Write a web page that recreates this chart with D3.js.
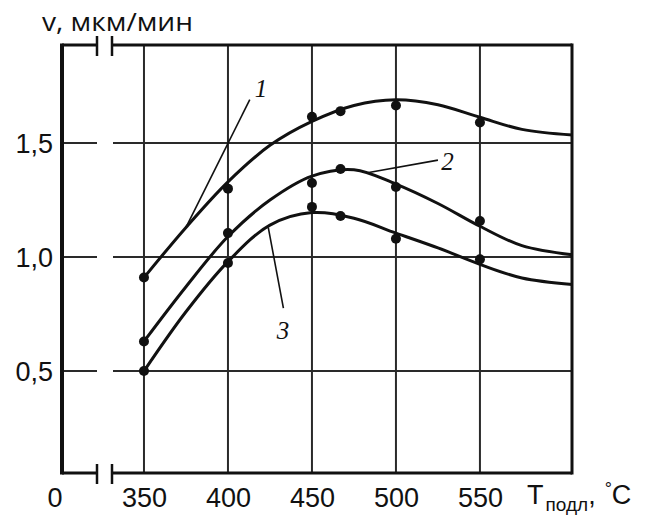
<!DOCTYPE html>
<html><head><meta charset="utf-8">
<script src="https://cdn.jsdelivr.net/npm/d3@7"></script>
<style>
html,body{margin:0;padding:0;background:#fff;}
svg{display:block;}
</style></head>
<body>
<svg id="chart" width="650" height="518"></svg>
<script>
// ---- data ----
const xTicks = [350, 400, 450, 500, 550];
const yTicks = [0.5, 1.0, 1.5];
const yTickLabels = ["0,5", "1,0", "1,5"];
const pointT = [350, 400, 450, 467, 500, 550];
const points1 = [0.91, 1.30, 1.615, 1.64, 1.665, 1.59];
const points2 = [0.63, 1.105, 1.325, 1.386, 1.307, 1.158];
const points3 = [0.50, 0.974, 1.22, 1.18, 1.08, 0.99];
const curveT = [350, 375, 400, 425, 450, 475, 500, 525, 550, 575, 605];
const curve1 = [0.91, 1.13, 1.33, 1.49, 1.595, 1.665, 1.69, 1.668, 1.613, 1.56, 1.535];
const curve2 = [0.63, 0.87, 1.09, 1.25, 1.355, 1.383, 1.32, 1.235, 1.135, 1.05, 1.01];
const curve3 = [0.50, 0.76, 0.98, 1.14, 1.195, 1.17, 1.105, 1.04, 0.968, 0.908, 0.88];
const curveLabels = ["1", "2", "3"];

// ---- layout ----
const L = 62, R = 572, T = 45, B = 473;
const gapA = 97, gapB = 112;
const x = d3.scaleLinear().domain([301.2, 604.8]).range([L, R]);
const y = d3.scaleLinear().domain([0.053, 1.93]).range([B, T]);

const svg = d3.select("#chart");
const ink = "#111";

// grid: vertical
svg.append("g").selectAll("line").data(xTicks).join("line")
  .attr("x1", d => x(d)).attr("x2", d => x(d))
  .attr("y1", T).attr("y2", B)
  .attr("stroke", "#2a2a2a").attr("stroke-width", 2);
// grid: horizontal with break gap
const hg = svg.append("g");
yTicks.forEach(v => {
  hg.append("line").attr("x1", L).attr("x2", gapA).attr("y1", y(v)).attr("y2", y(v))
    .attr("stroke", "#2a2a2a").attr("stroke-width", 2);
  hg.append("line").attr("x1", gapB + 1).attr("x2", R).attr("y1", y(v)).attr("y2", y(v))
    .attr("stroke", "#2a2a2a").attr("stroke-width", 2);
});

// frame
const fr = svg.append("g").attr("stroke", ink).attr("fill", "none");
fr.append("line").attr("x1", L).attr("x2", L).attr("y1", T - 1.5).attr("y2", B + 1.5).attr("stroke-width", 4);
fr.append("line").attr("x1", R).attr("x2", R).attr("y1", T - 1.5).attr("y2", B + 1.5).attr("stroke-width", 3);
[T, B].forEach(yy => {
  fr.append("line").attr("x1", L).attr("x2", gapA).attr("y1", yy).attr("y2", yy).attr("stroke-width", 3);
  fr.append("line").attr("x1", gapB).attr("x2", R).attr("y1", yy).attr("y2", yy).attr("stroke-width", 3);
  fr.append("line").attr("x1", gapA).attr("x2", gapA).attr("y1", yy - 9).attr("y2", yy + 11).attr("stroke-width", 2.5);
  fr.append("line").attr("x1", gapB).attr("x2", gapB).attr("y1", yy - 9).attr("y2", yy + 11).attr("stroke-width", 2.5);
});

// axes (labels only)
const font = "'Liberation Sans', Arial, sans-serif";
const xAxis = svg.append("g").attr("transform", `translate(0,${B})`)
  .call(d3.axisBottom(x).tickValues(xTicks).tickSize(0).tickPadding(0).tickFormat(d3.format("d")));
xAxis.select(".domain").remove();
xAxis.selectAll("text").attr("dy", null).attr("y", 34)
  .attr("font-family", font).attr("font-size", 27).attr("fill", ink);

const yAxis = svg.append("g").attr("transform", `translate(${L},0)`)
  .call(d3.axisLeft(y).tickValues(yTicks).tickSize(0).tickPadding(9)
    .tickFormat((d, i) => yTickLabels[i]));
yAxis.select(".domain").remove();
yAxis.selectAll("text").attr("font-family", font).attr("font-size", 27).attr("fill", ink)
  .attr("dy", "0.36em");

// origin "0"
svg.append("text").attr("x", 55).attr("y", B + 34).attr("text-anchor", "middle")
  .attr("font-family", font).attr("font-size", 27).attr("fill", ink).text("0");

// axis titles
svg.append("text").attr("x", 42).attr("y", 31)
  .attr("font-family", "'Open Sans', sans-serif").attr("font-size", 25).attr("fill", ink)
  .attr("textLength", 151).attr("lengthAdjust", "spacingAndGlyphs")
  .text("v, мкм/мин");
const tl = svg.append("text").attr("x", 527).attr("y", B + 31)
  .attr("font-family", font).attr("font-size", 27).attr("fill", ink);
tl.append("tspan").text("T");
tl.append("tspan").attr("font-size", 19).attr("dy", 7).attr("dx", 2).text("подл");
tl.append("tspan").attr("dy", -7).text(",");
tl.append("tspan").attr("font-size", 18).attr("dy", -9).attr("dx", 9).text("°");
tl.append("tspan").attr("dy", 9).text("C");

// curves
const line = d3.line().x(d => x(d[0])).y(d => y(d[1])).curve(d3.curveCatmullRom.alpha(0.5));
[curve1, curve2, curve3].forEach(c => {
  svg.append("path").datum(curveT.map((t, i) => [t, c[i]]))
    .attr("d", line).attr("fill", "none").attr("stroke", ink).attr("stroke-width", 3);
});

// points
[points1, points2, points3].forEach(p => {
  svg.append("g").selectAll("circle").data(pointT.map((t, i) => [t, p[i]])).join("circle")
    .attr("cx", d => x(d[0])).attr("cy", d => y(d[1])).attr("r", 5).attr("fill", ink);
});

// curve labels with leaders
const leaders = [
  {lab: 0, from: [375, 1.13], to: [413, 1.69], tx: 416, ty: 1.70},
  {lab: 1, from: [483, 1.37], to: [525, 1.425], tx: 527, ty: 1.38},
  {lab: 2, from: [424, 1.13], to: [433, 0.776], tx: 429, ty: 0.64}
];
leaders.forEach(l => {
  svg.append("line").attr("x1", x(l.from[0])).attr("y1", y(l.from[1]))
    .attr("x2", x(l.to[0])).attr("y2", y(l.to[1]))
    .attr("stroke", ink).attr("stroke-width", 1.6);
  svg.append("text").attr("x", x(l.tx)).attr("y", y(l.ty))
    .attr("font-family", "'Liberation Serif', 'Times New Roman', serif").attr("font-style", "italic")
    .attr("font-size", 25).attr("fill", ink).text(curveLabels[l.lab]);
});
</script>
</body></html>
